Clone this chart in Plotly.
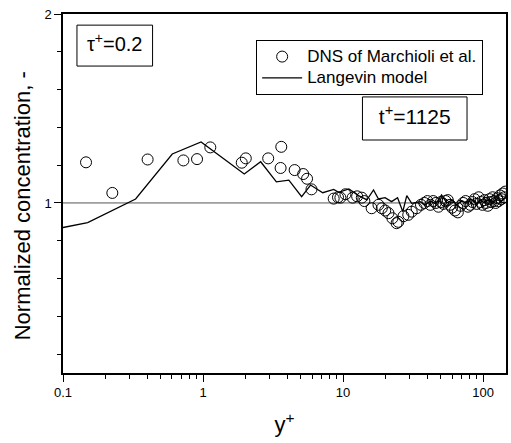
import plotly.graph_objects as go

# DNS of Marchioli et al. (open circles)
dns_x = [0.146, 0.225, 0.402, 0.724, 0.906, 1.127, 1.89, 2.02, 2.92, 3.62, 3.58, 4.51, 5.19, 5.53, 5.95,
         8.57, 9.2, 9.57, 10.4, 11.7, 12.6, 13.6, 14.2, 16.0, 17.9, 18.9, 20.0, 21.1, 22.5, 24.1, 24.8,
         27.0, 29.2, 30.9, 33.5,
         36, 38, 40, 42, 44, 46, 48, 50, 52, 54, 56, 58, 60, 63, 66, 69, 72, 75, 78, 81, 84, 87, 90, 93,
         96, 99, 102, 105, 108, 111, 114, 117, 120, 123, 126, 129, 132, 135, 138, 141, 144]
dns_y = [1.215, 1.053, 1.230, 1.225, 1.232, 1.294, 1.213, 1.236, 1.236, 1.297, 1.185, 1.174, 1.153, 1.128, 1.072,
         1.023, 1.030, 1.028, 1.046, 1.028, 1.035, 1.028, 1.010, 0.972, 0.990, 0.972, 0.960, 0.946, 0.919, 0.893, 0.900,
         0.930, 0.937, 0.954, 0.972,
         0.990, 1.000, 1.010, 0.990, 1.010, 1.000, 0.980, 1.005, 0.995, 1.010, 1.015, 0.990, 0.975, 0.960, 0.950,
         0.985, 1.000, 1.010, 0.980, 0.990, 1.005, 1.020, 0.995, 1.030, 1.005, 0.990, 1.015, 1.000, 0.985, 1.020,
         1.005, 1.030, 1.010, 1.000, 1.025, 1.010, 1.040, 1.020, 1.050, 1.030, 1.060]

# Langevin model (solid line)
lm_x = [0.1, 0.150, 0.330, 0.603, 0.968, 1.97, 2.58, 3.34, 4.10, 5.06, 5.86, 7.16, 8.57, 9.3, 11.0, 12.9,
        14.8, 16.5, 17.9, 19.95, 22.2, 24.5, 26.7, 28.5, 30.9, 35.5, 38.5, 42, 46, 50.5, 55, 60, 65, 70,
        76, 82, 89, 96, 103, 110, 118, 127, 136, 145]
lm_y = [0.870, 0.896, 1.021, 1.259, 1.323, 1.153, 1.218, 1.112, 1.121, 1.033, 1.095, 1.054, 1.072, 1.056,
        1.074, 1.039, 1.016, 1.069, 1.021, 1.028, 1.007, 1.028, 0.954, 1.039, 0.998, 1.007, 0.990, 1.010,
        0.995, 1.042, 1.000, 1.015, 0.990, 1.010, 1.000, 1.020, 0.995, 1.015, 1.000, 1.020, 1.005, 1.025,
        1.010, 1.030]

series_names = ["DNS of Marchioli et al.", "Langevin model"]

x_ticks = [0.1, 1, 10, 100]
x_tick_labels = ["0.1", "1", "10", "100"]
y_ticks = [1, 2]
y_tick_labels = ["1", "2"]
y_title = "Normalized concentration, -"

# label texts
label_texts = ["τ<sup>+</sup>=0.2", "t<sup>+</sup>=1125"]
label_x = [0.234, 32.5]
label_y = [1.831, 1.446]

x_minor = [m * d for d in [0.1, 1, 10, 100] for m in range(2, 10) if m * d < 146]
y_minor = [0.2, 0.4, 0.6, 0.8, 1.2, 1.4, 1.6, 1.8]

FONT = "Arial, Liberation Sans, sans-serif"


def big(s):
    return '<span style="font-size:17px">' + s + '</span>'


fig = go.Figure()
fig.add_trace(go.Scatter(x=dns_x, y=dns_y, mode="markers", name=big(series_names[0]),
                         marker=dict(symbol="circle-open", size=11, color="black", line=dict(width=1))))
fig.add_trace(go.Scatter(x=lm_x, y=lm_y, mode="lines", name=big(series_names[1]),
                         line=dict(color="black", width=1.3)))
fig.add_trace(go.Scatter(x=label_x[:1], y=label_y[:1], mode="text", text=label_texts[:1],
                         textposition="middle center", showlegend=False, hoverinfo="skip",
                         textfont=dict(family=FONT, size=20, color="black")))
fig.add_trace(go.Scatter(x=label_x[1:], y=label_y[1:], mode="text", text=label_texts[1:],
                         textposition="middle center", showlegend=False, hoverinfo="skip",
                         textfont=dict(family=FONT, size=21, color="black")))

fig.add_shape(type="line", xref="paper", yref="y", x0=0, x1=1, y0=1, y1=1,
              line=dict(color="#555555", width=1), layer="below")

# label boxes
fig.add_shape(type="rect", xref="paper", yref="paper", x0=0.0315, x1=0.2022, y0=0.855, y1=0.969,
              line=dict(color="black", width=1), fillcolor="white", layer="below")
fig.add_shape(type="rect", xref="paper", yref="paper", x0=0.676, x1=0.912, y0=0.649, y1=0.769,
              line=dict(color="black", width=1), fillcolor="white", layer="below")

# y axis title (placed slightly below the plot centre, as in the reference)
fig.add_annotation(xref="paper", yref="paper", x=-0.0921, y=0.465, text=y_title, textangle=-90,
                   showarrow=False, xanchor="center", yanchor="middle",
                   font=dict(family=FONT, size=22, color="black"))

fig.update_layout(
    width=511, height=443,
    margin=dict(l=63, r=3, t=14, b=70),
    paper_bgcolor="white", plot_bgcolor="white",
    font=dict(family=FONT, color="black"),
    showlegend=True,
    legend=dict(x=0.436, y=0.9276, xanchor="left", yanchor="top",
                bordercolor="black", borderwidth=1, bgcolor="white",
                font=dict(family=FONT, size=14, color="black"),
                tracegroupgap=0, itemwidth=40),
    xaxis=dict(type="log", range=[-1, 2.1635], showgrid=False, zeroline=False,
               showline=True, linecolor="black", linewidth=1.5, mirror=True,
               ticks="outside", ticklen=7, tickwidth=1, tickcolor="black",
               tickvals=x_ticks, ticktext=x_tick_labels,
               tickfont=dict(family=FONT, size=13, color="black"),
               minor=dict(tickvals=x_minor, ticks="outside", ticklen=4, tickcolor="black", tickwidth=1),
               title=dict(text="y<sup>+</sup>", font=dict(family=FONT, size=22, color="black"), standoff=17)),
    yaxis=dict(range=[0.1, 2], showgrid=False, zeroline=False,
               showline=True, linecolor="black", linewidth=1.5, mirror=True,
               ticks="outside", ticklen=7, tickwidth=1, tickcolor="black",
               tickvals=y_ticks, ticktext=y_tick_labels,
               tickfont=dict(family=FONT, size=13, color="black"),
               minor=dict(tickvals=y_minor, ticks="outside", ticklen=4, tickcolor="black", tickwidth=1)),
)

fig.write_html("out.html")
